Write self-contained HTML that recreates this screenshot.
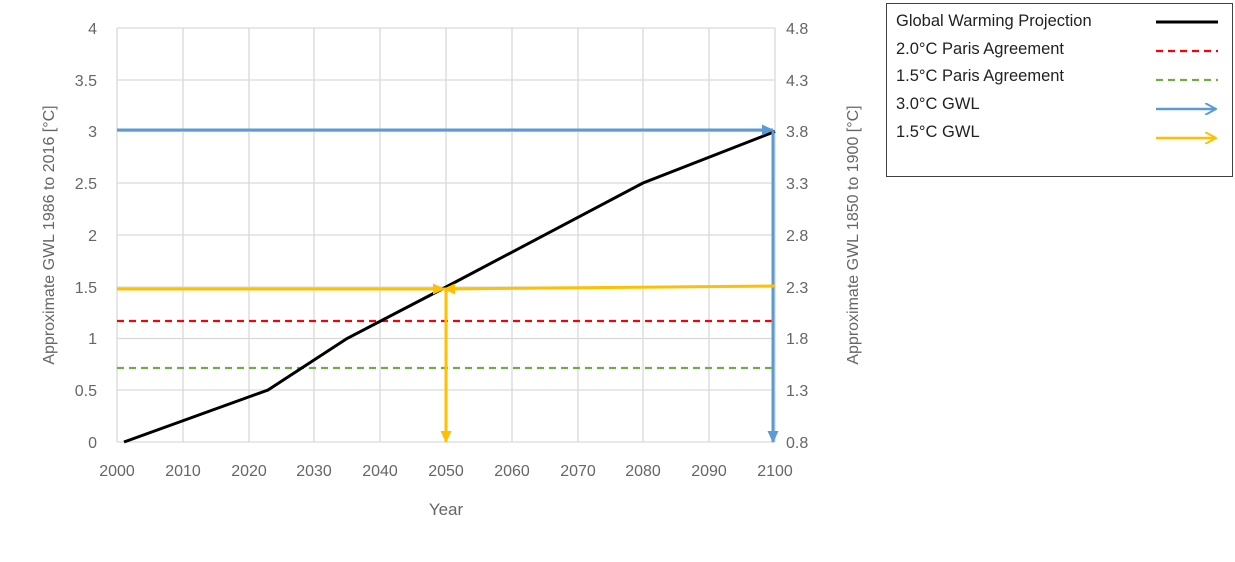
<!DOCTYPE html>
<html><head><style>body{margin:0;background:#fff}</style></head><body>
<svg width="1235" height="557" xmlns="http://www.w3.org/2000/svg" font-family="Liberation Sans, sans-serif">
<defs>
<marker id="ab" markerWidth="12" markerHeight="11" refX="11" refY="5.5" orient="auto" markerUnits="userSpaceOnUse"><path d="M0,0 L12,5.5 L0,11 z" fill="#5b9bd5"/></marker>
<marker id="ay" markerWidth="12" markerHeight="11" refX="11" refY="5.5" orient="auto" markerUnits="userSpaceOnUse"><path d="M0,0 L12,5.5 L0,11 z" fill="#ffc000"/></marker>
<marker id="lb" markerWidth="12" markerHeight="12" refX="11" refY="6" orient="auto" markerUnits="userSpaceOnUse"><path d="M0,0 L11,6 L0,12" fill="none" stroke="#5b9bd5" stroke-width="2"/></marker>
<marker id="ly" markerWidth="12" markerHeight="12" refX="11" refY="6" orient="auto" markerUnits="userSpaceOnUse"><path d="M0,0 L11,6 L0,12" fill="none" stroke="#ffc000" stroke-width="2"/></marker>
</defs>
<rect width="1235" height="557" fill="#fff"/>
<g stroke="#d9d9d9" stroke-width="1.3">
<line x1="117" y1="28" x2="775" y2="28"/><line x1="117" y1="80" x2="775" y2="80"/><line x1="117" y1="131.5" x2="775" y2="131.5"/><line x1="117" y1="183" x2="775" y2="183"/><line x1="117" y1="235" x2="775" y2="235"/><line x1="117" y1="287" x2="775" y2="287"/><line x1="117" y1="338.5" x2="775" y2="338.5"/><line x1="117" y1="390" x2="775" y2="390"/><line x1="117" y1="442" x2="775" y2="442"/>
<line x1="117" y1="28" x2="117" y2="442"/><line x1="183" y1="28" x2="183" y2="442"/><line x1="249" y1="28" x2="249" y2="442"/><line x1="314" y1="28" x2="314" y2="442"/><line x1="380" y1="28" x2="380" y2="442"/><line x1="446" y1="28" x2="446" y2="442"/><line x1="512" y1="28" x2="512" y2="442"/><line x1="578" y1="28" x2="578" y2="442"/><line x1="643" y1="28" x2="643" y2="442"/><line x1="709" y1="28" x2="709" y2="442"/><line x1="775" y1="28" x2="775" y2="442"/>
</g>
<g font-size="16" fill="#666" text-anchor="end">
<text x="97" y="34">4</text><text x="97" y="86">3.5</text><text x="97" y="137">3</text><text x="97" y="189">2.5</text><text x="97" y="241">2</text><text x="97" y="293">1.5</text><text x="97" y="344">1</text><text x="97" y="396">0.5</text><text x="97" y="448">0</text>
</g>
<g font-size="16" fill="#666" text-anchor="start">
<text x="786" y="34">4.8</text><text x="786" y="86">4.3</text><text x="786" y="137">3.8</text><text x="786" y="189">3.3</text><text x="786" y="241">2.8</text><text x="786" y="293">2.3</text><text x="786" y="344">1.8</text><text x="786" y="396">1.3</text><text x="786" y="448">0.8</text>
</g>
<g font-size="16" fill="#666" text-anchor="middle">
<text x="117" y="476">2000</text><text x="183" y="476">2010</text><text x="249" y="476">2020</text><text x="314" y="476">2030</text><text x="380" y="476">2040</text><text x="446" y="476">2050</text><text x="512" y="476">2060</text><text x="578" y="476">2070</text><text x="643" y="476">2080</text><text x="709" y="476">2090</text><text x="775" y="476">2100</text>
<text x="446" y="515" font-size="17">Year</text>
<text transform="translate(54,235) rotate(-90)" font-size="16">Approximate GWL 1986 to 2016 [°C]</text>
<text transform="translate(858,235) rotate(-90)" font-size="16">Approximate GWL 1850 to 1900 [°C]</text>
</g>
<line x1="117" y1="321" x2="775" y2="321" stroke="#ff0000" stroke-width="2.2" stroke-dasharray="7,5"/>
<line x1="117" y1="368" x2="775" y2="368" stroke="#70ad47" stroke-width="2.2" stroke-dasharray="7,5"/>
<polyline points="124,442 268,390 347,338.5 446,287 643,183 775,131.5" fill="none" stroke="#000" stroke-width="3"/>
<line x1="117" y1="130" x2="773" y2="130" stroke="#5b9bd5" stroke-width="3" marker-end="url(#ab)"/>
<line x1="773" y1="131" x2="773" y2="442" stroke="#5b9bd5" stroke-width="3" marker-end="url(#ab)"/>
<line x1="117" y1="289" x2="444" y2="289" stroke="#ffc000" stroke-width="3" marker-end="url(#ay)"/>
<line x1="775" y1="286" x2="444" y2="289" stroke="#ffc000" stroke-width="3" marker-end="url(#ay)"/>
<line x1="446" y1="290" x2="446" y2="442" stroke="#ffc000" stroke-width="3" marker-end="url(#ay)"/>
<rect x="886.5" y="3.5" width="346" height="173" fill="#fff" stroke="#404040" stroke-width="1"/>
<g font-size="16.5" fill="#222">
<text x="896" y="26">Global Warming Projection</text>
<text x="896" y="54">2.0°C Paris Agreement</text>
<text x="896" y="81">1.5°C Paris Agreement</text>
<text x="896" y="109">3.0°C GWL</text>
<text x="896" y="137">1.5°C GWL</text>
</g>
<line x1="1156" y1="22" x2="1218" y2="22" stroke="#000" stroke-width="3"/>
<line x1="1156" y1="51" x2="1218" y2="51" stroke="#ff0000" stroke-width="2.2" stroke-dasharray="7,5"/>
<line x1="1156" y1="80" x2="1218" y2="80" stroke="#70ad47" stroke-width="2.2" stroke-dasharray="7,5"/>
<line x1="1156" y1="109" x2="1216" y2="109" stroke="#5b9bd5" stroke-width="2.5" marker-end="url(#lb)"/>
<line x1="1156" y1="138" x2="1216" y2="138" stroke="#ffc000" stroke-width="2.5" marker-end="url(#ly)"/>
</svg>
</body></html>
